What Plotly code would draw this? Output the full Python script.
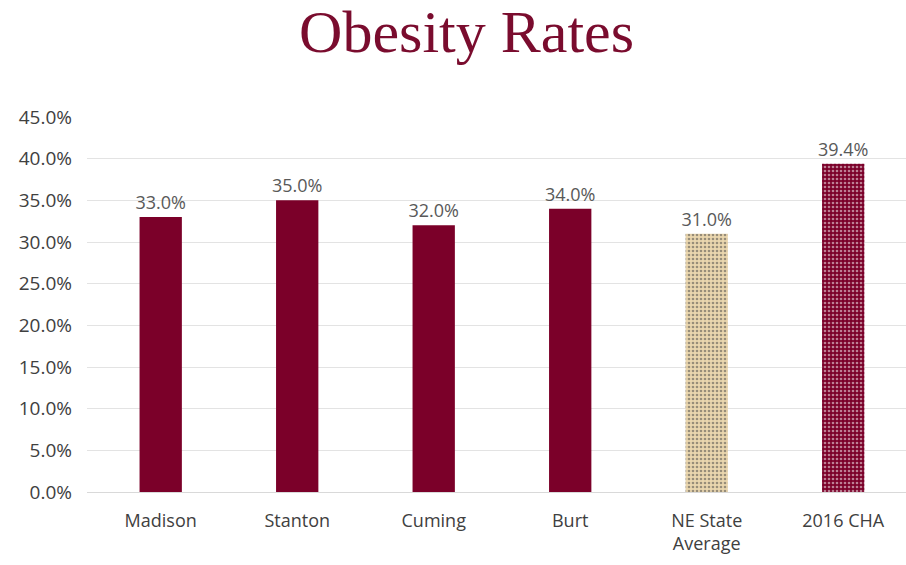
import plotly.graph_objects as go

categories = ["Madison", "Stanton", "Cuming", "Burt", "NE State<br>Average", "2016 CHA"]
values = [33.0, 35.0, 32.0, 34.0, 31.0, 39.4]
labels = ["33.0%", "35.0%", "32.0%", "34.0%", "31.0%", "39.4%"]
tick_vals = [0, 5, 10, 15, 20, 25, 30, 35, 40, 45]
tick_text = ["0.0%", "5.0%", "10.0%", "15.0%", "20.0%", "25.0%", "30.0%", "35.0%", "40.0%", "45.0%"]

colors = ["#7b0029", "#7b0029", "#7b0029", "#7b0029", "#ead6ae", "#7b0029"]
pat_shapes = ["", "", "", "", ".", "."]
pat_fg = ["#7b0029", "#7b0029", "#7b0029", "#7b0029", "#cdb488", "#b8325f"]

fig = go.Figure(go.Bar(
    x=categories, y=values, text=labels, textposition="outside",
    constraintext="none",
    textfont=dict(family="Open Sans", size=18, color="#595959"),
    marker=dict(color=colors, line=dict(width=0),
                pattern=dict(shape=pat_shapes, fgcolor=pat_fg, size=4, solidity=0.35)),
    width=0.31, cliponaxis=False,
))

fig.update_layout(
    width=906, height=565,
    margin=dict(l=87, r=0, t=117, b=73),
    paper_bgcolor="white", plot_bgcolor="white",
    title=dict(text="Obesity Rates", x=0.515, xanchor="center", y=0.945, yanchor="middle",
               font=dict(family="Liberation Serif", size=60, color="#7a0c2e")),
    showlegend=False,
    yaxis=dict(range=[0, 45], tickvals=tick_vals, ticktext=tick_text,
               showgrid=True, gridcolor="#e3e3e3", gridwidth=1, zeroline=False,
               tickfont=dict(family="Open Sans", size=19, color="#404040"),
               ticks="", showline=False, ticklabelstandoff=14),
    xaxis=dict(tickfont=dict(family="Open Sans", size=18, color="#404040"),
               range=[-0.54, 5.46],
               showline=True, linecolor="#d9d9d9", linewidth=1, ticks="",
               ticklabelstandoff=12),
)

fig.write_html("out.html")
